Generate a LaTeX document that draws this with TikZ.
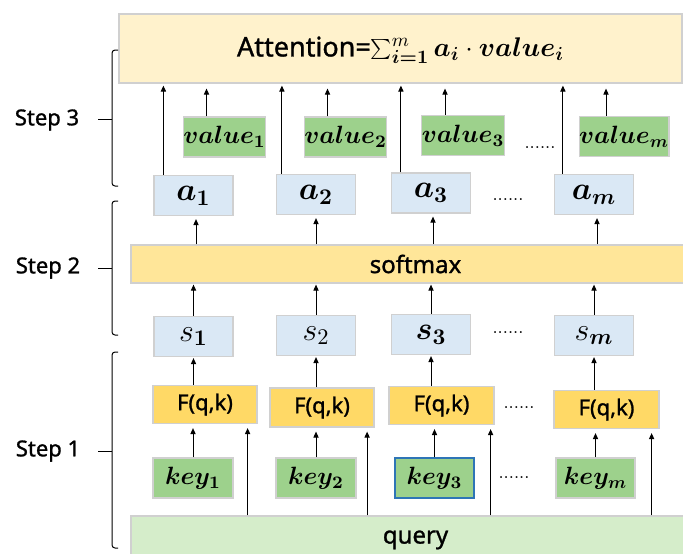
\RequirePackage{fix-cm}
\documentclass[tikz,border=0pt]{standalone}
\usepackage{bm}
\usepackage{fontspec}
\newfontfamily\yh{Noto Sans}[FakeBold=1.2]
\usetikzlibrary{arrows.meta}
\definecolor{attfill}{HTML}{FFF2CC}
\definecolor{softfill}{HTML}{FFE699}
\definecolor{goldfill}{HTML}{FFD966}
\definecolor{greenfill}{HTML}{9DD18C}
\definecolor{bluefill}{HTML}{DAE8F5}
\definecolor{queryfill}{HTML}{D5EDCA}
\definecolor{edgegray}{HTML}{D0D0D0}
\definecolor{edgeblue}{HTML}{2E75B6}
\tikzset{
  bx/.style={draw=edgegray, line width=0.6pt, inner sep=0pt, minimum height=20pt},
  bluebx/.style={bx, fill=bluefill, minimum width=39.5pt, font=\fontsize{16}{16}\selectfont},
  greenbx/.style={bx, fill=greenfill, minimum width=39.5pt, font=\fontsize{12.5}{13}\selectfont},
  goldbx/.style={bx, fill=goldfill, minimum width=52pt, minimum height=19pt, font=\yh\fontsize{11}{13}\selectfont},
  widebx/.style={bx, font=\yh\fontsize{12}{14}\selectfont},
  arr/.style={-{Triangle[length=3pt,width=2.6pt]}, line width=0.5pt},
  dotsn/.style={font=\fontsize{9}{9}\selectfont, anchor=base, inner sep=0pt},
  steplbl/.style={font=\yh\fontsize{11}{13}\selectfont, inner sep=0pt},
  brk/.style={line width=0.5pt, rounded corners=1.5pt}
}
\begin{document}
\begin{tikzpicture}[x=0.5pt,y=-0.5pt]
\useasboundingbox (0,0) rectangle (683,553);
\clip (0,0) rectangle (683,553);
\fill[white] (0,0) rectangle (683,553);

% top: attention
\node[widebx, fill=attfill, minimum width=281.5pt, minimum height=34.5pt, font=\yh\fontsize{13.5}{15}\selectfont, text depth=2pt] (att) at (400.5,48.5)
  {Attention=$\sum_{\bm{i=1}}^{m}\bm{a_i}\cdot\bm{value_i}$};

% value row
\node[greenbx] (v1) at (224.5,137) {$\bm{value_1}$};
\node[greenbx] (v2) at (345.5,137) {$\bm{value_2}$};
\node[greenbx] (v3) at (463,135.5) {$\bm{value_3}$};
\node[greenbx, minimum width=41pt] (vm) at (624,136.5) {$\bm{value_m}$};
\node[dotsn] (dv) at (540,148) {......};

% a row
\node[bluebx] (a1) at (193.5,195.5) {$\bm{a_1}$};
\node[bluebx] (a2) at (316,194.5) {$\bm{a_2}$};
\node[bluebx] (a3) at (431,193) {$\bm{a_3}$};
\node[bluebx] (am) at (594,194.5) {$\bm{a_m}$};
\node[dotsn] (da) at (508,200) {......};

% softmax
\node[widebx, fill=softfill, minimum width=284.5pt, minimum height=19pt] (soft) at (415.5,264) {softmax};

% s row
\node[bluebx] (s1) at (193.5,336.5) {$s_{\bm 1}$};
\node[bluebx] (s2) at (316,335.5) {$s_2$};
\node[bluebx] (s3) at (431,334.5) {$\bm{s_3}$};
\node[bluebx] (sm) at (594,335.5) {$s_{\bm m}$};
\node[dotsn] (ds) at (508,333) {......};

% F row
\node[goldbx] (F1) at (205,404.5) {F(q,k)};
\node[goldbx, minimum height=19.5pt] (F2) at (322,407.5) {F(q,k)};
\node[goldbx, minimum width=52.5pt] (F3) at (441.5,405.5) {F(q,k)};
\node[goldbx, minimum width=52.5pt] (Fm) at (606.5,409.5) {F(q,k)};
\node[dotsn] (dF) at (519,408) {......};

% key row
\node[greenbx, minimum width=40pt] (k1) at (193,478) {$\bm{key_1}$};
\node[greenbx, minimum width=40pt] (k2) at (316,478) {$\bm{key_2}$};
\node[greenbx, minimum width=39.5pt, draw=edgeblue] (k3) at (434.5,478) {$\bm{key_3}$};
\node[greenbx, minimum width=39.5pt] (km) at (595.5,478) {$\bm{key_m}$};
\node[dotsn] (dk) at (514,478) {......};

% query
\node[widebx, fill=queryfill, minimum width=284.5pt, minimum height=22pt, text depth=1pt] (query) at (415.5,538) {query};

% arrows into attention
\foreach \n/\s in {1/5,2/3,3/5,m/4.5}
  \draw[arr, shorten >=1pt] ([xshift=\s pt]a\n.north west) -- ([xshift=\s pt]a\n.north west |- att.south);
\foreach \n in {1,2,3,m}
  \draw[arr, shorten >=2.5pt] ([xshift=-9pt]v\n.north) -- ([xshift=-9pt]v\n.north |- att.south);

% softmax -> a
\foreach \n/\s in {1/1.25,2/0,3/1,m/1.5}
  \draw[arr, shorten >=1.5pt] ([xshift=\s pt]a\n.south |- soft.north) -- ([xshift=\s pt]a\n.south);
% s -> softmax
\foreach \n in {1,2,3,m}
  \draw[arr, shorten >=0.5pt] (s\n.north) -- (s\n.north |- soft.south);
% F -> s
\foreach \n in {1,2,3,m}
  \draw[arr, shorten >=0.5pt] (s\n.south |- F\n.north) -- (s\n.south);
% key -> F
\foreach \n in {1,2,3,m}
  \draw[arr, shorten >=2pt] (k\n.north) -- (k\n.north |- F\n.south);
% query -> F
\foreach \n/\s in {1/-5,2/-3.75,3/-2,m/-4}
  \draw[arr, shorten >=2pt] ([xshift=\s pt]F\n.south east |- query.north) -- ([xshift=\s pt]F\n.south east);

% brackets and step labels
\draw[brk] (118,50) -- (112,50) -- (112,186) -- (118,186);
\draw[line width=0.5pt] (98,119) -- (112,119);
\node[steplbl] (st3) at (47,120) {Step 3};
\draw[brk] (118,201) -- (112,201) -- (112,335) -- (118,335);
\draw[line width=0.5pt] (98,268) -- (112,268);
\node[steplbl] (st2) at (48,268) {Step 2};
\draw[brk] (118,352) -- (112,352) -- (112,548) -- (118,548);
\draw[line width=0.5pt] (98,451) -- (112,451);
\node[steplbl] (st1) at (48,451) {Step 1};
\end{tikzpicture}
\end{document}
